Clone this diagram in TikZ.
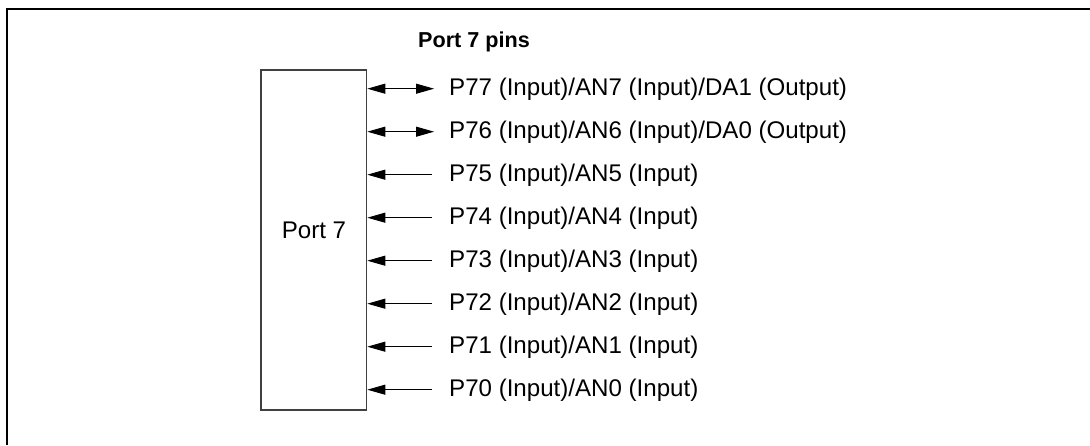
\documentclass[tikz,border=0pt]{standalone}
\usepackage{fontspec}
\setmainfont{Liberation Sans}
\usepackage{tikz}
\usetikzlibrary{positioning,arrows.meta}

\begin{document}
\begin{tikzpicture}[x=1pt,y=1pt,>={Triangle[length=18pt,width=10pt]}]
  \tikzstyle{pinlbl}=[anchor=base west,inner sep=0pt,font=\fontsize{24.1}{28}\selectfont]
  \tikzstyle{pinin}=[->,line width=0.9pt]
  \tikzstyle{pinio}=[<->,line width=0.9pt]
  \useasboundingbox (0,0) rectangle (1090,445);
  % frame (only top and left edges show)
  \draw[line width=1.4pt] (7,0) -- (7,436) -- (1090,436);
  % port block
  \node[draw=black!75,line width=1.2pt,minimum width=105.7pt,minimum height=340pt,inner sep=0pt] (port) at (313.85,205) {};
  \node[anchor=base,inner sep=0pt,font=\fontsize{24.1}{28}\selectfont] (portlbl) at (314,206) {Port 7};
  \node[anchor=base west,inner sep=0pt,font=\fontsize{21.6}{26}\selectfont\bfseries] (title) at (418,397.7) {Port 7 pins};
  % pin labels
  \node[pinlbl] (p77) at (449,349.3) {P77 (Input)/AN7 (Input)/DA1 (Output)};
  \node[pinlbl] (p76) at (449,306.3) {P76 (Input)/AN6 (Input)/DA0 (Output)};
  \node[pinlbl] (p75) at (449,263.3) {P75 (Input)/AN5 (Input)};
  \node[pinlbl] (p74) at (449,220.3) {P74 (Input)/AN4 (Input)};
  \node[pinlbl] (p73) at (449,177.3) {P73 (Input)/AN3 (Input)};
  \node[pinlbl] (p72) at (449,134.3) {P72 (Input)/AN2 (Input)};
  \node[pinlbl] (p71) at (449,91.3) {P71 (Input)/AN1 (Input)};
  \node[pinlbl] (p70) at (449,48.3) {P70 (Input)/AN0 (Input)};
  % line ends beside the labels
  \coordinate (e77) at (434,356.3);
  \coordinate (e76) at (434,313.3);
  \coordinate (e75) at (432,270.3);
  \coordinate (e74) at (432,227.3);
  \coordinate (e73) at (432,184.3);
  \coordinate (e72) at (432,141.3);
  \coordinate (e71) at (432,98.3);
  \coordinate (e70) at (432,55.3);
  % arrows
  \draw[pinio] (port.east |- e77) -- (e77);
  \draw[pinio] (port.east |- e76) -- (e76);
  \draw[pinin] (e75) -- (port.east |- e75);
  \draw[pinin] (e74) -- (port.east |- e74);
  \draw[pinin] (e73) -- (port.east |- e73);
  \draw[pinin] (e72) -- (port.east |- e72);
  \draw[pinin] (e71) -- (port.east |- e71);
  \draw[pinin] (e70) -- (port.east |- e70);
\end{tikzpicture}
\end{document}
